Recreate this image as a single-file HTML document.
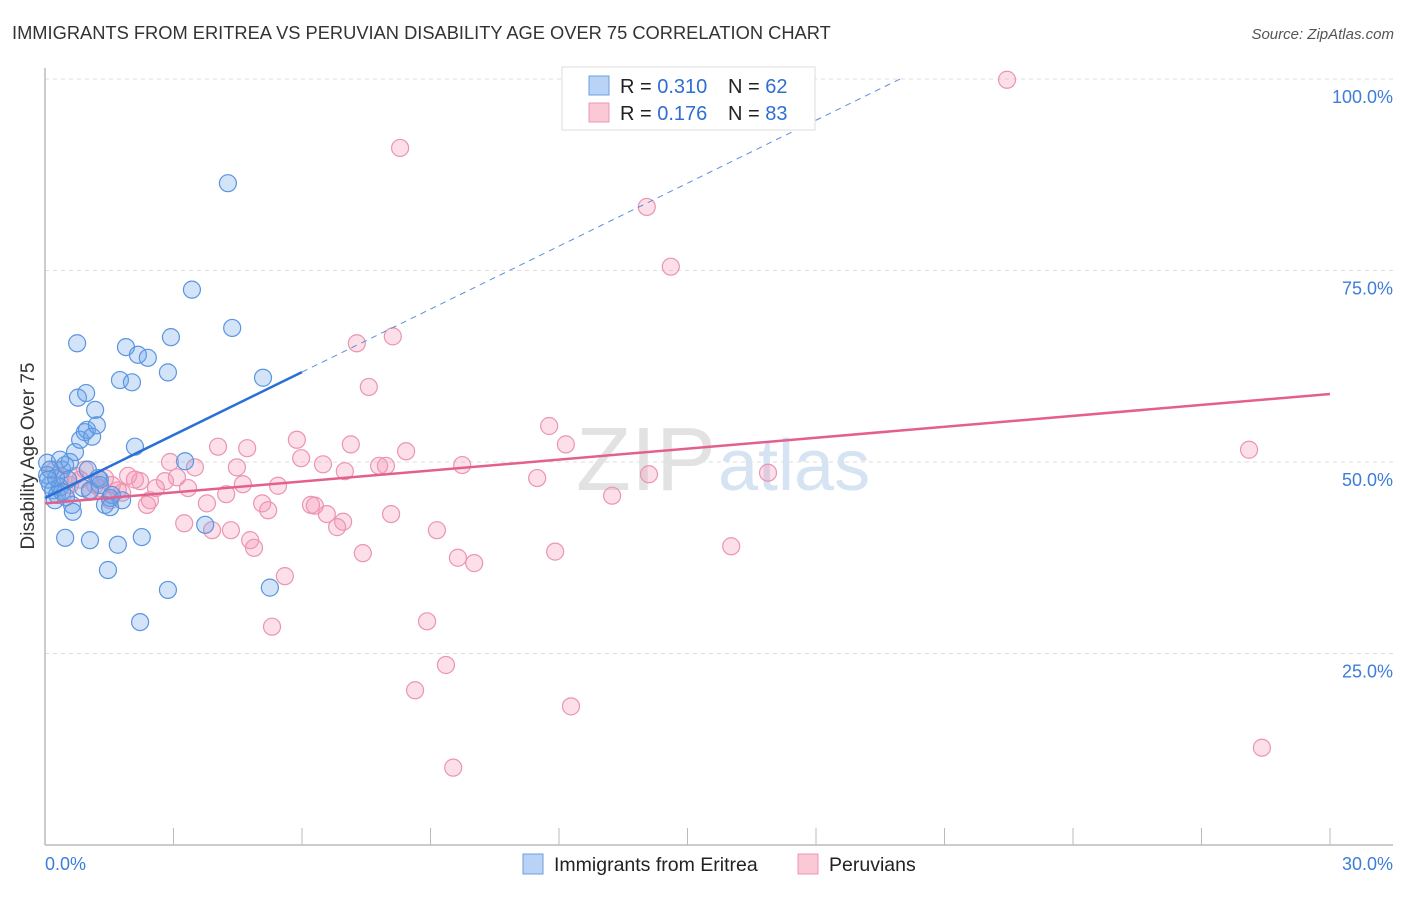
<!DOCTYPE html>
<html><head><meta charset="utf-8"><style>
body{margin:0;background:#fff;font-family:"Liberation Sans",sans-serif;}
svg text{font-family:"Liberation Sans",sans-serif;}
</style></head><body>
<svg id="chart" width="1406" height="892">
<text x="12" y="39" font-size="18.3" fill="#333">IMMIGRANTS FROM ERITREA VS PERUVIAN DISABILITY AGE OVER 75 CORRELATION CHART</text>
<text x="1394" y="39" font-size="15" fill="#555" text-anchor="end" font-style="italic">Source: ZipAtlas.com</text>
<text x="0" y="0" transform="translate(34,456) rotate(-90)" font-size="19" fill="#333" text-anchor="middle">Disability Age Over 75</text>
<g id="grid"></g>
<text x="716" y="490" font-size="90" font-family="Liberation Serif" fill="#e2e2e2" text-anchor="end">ZIP</text>
<text x="718" y="490" font-size="72" fill="#d5e3f3">atlas</text>
<g id="marks"></g>
<g id="trends"></g>
<g>
<rect x="562" y="67" width="253" height="63" fill="#fff" stroke="#ddd"/>
<rect x="589" y="76" width="20" height="19" fill="#b8d3f5" stroke="#6a9fe0"/>
<rect x="589" y="103" width="20" height="19" fill="#fbc8d6" stroke="#eb99b2"/>
<text x="620" y="93" font-size="20" fill="#222">R = <tspan fill="#2f6fd0">0.310</tspan></text>
<text x="728" y="93" font-size="20" fill="#222">N = <tspan fill="#2f6fd0">62</tspan></text>
<text x="620" y="120" font-size="20" fill="#222">R = <tspan fill="#2f6fd0"> 0.176</tspan></text>
<text x="728" y="120" font-size="20" fill="#222">N = <tspan fill="#2f6fd0">83</tspan></text>
</g>
<g>
<rect x="523" y="854" width="20" height="20" fill="#b8d3f5" stroke="#6a9fe0"/>
<text x="554" y="871" font-size="19.5" fill="#222">Immigrants from Eritrea</text>
<rect x="798" y="854" width="20" height="20" fill="#fbc8d6" stroke="#eb99b2"/>
<text x="829" y="871" font-size="19.5" fill="#222">Peruvians</text>
</g>
<text x="45" y="870" font-size="18" fill="#3d7dd8">0.0%</text>
<text x="1393" y="870" font-size="18" fill="#3d7dd8" text-anchor="end">30.0%</text>
</svg>
<script>
const blueX=[0.05,0.05,0.12,0.19,0.23,0.28,0.35,0.40,0.47,0.58,0.63,0.65,0.47,0.70,0.82,0.93,0.98,1.10,1.21,1.17,0.77,0.96,0.75,1.05,1.24,1.28,1.40,1.52,1.47,1.70,1.80,1.75,2.03,1.89,2.17,2.40,2.10,2.26,2.87,2.94,2.87,2.22,3.27,3.43,3.74,4.27,4.37,5.09,5.25,0.35,0.54,0.89,1.05,1.28,1.56,0.26,0.12,0.07,0.40,0.49,1.00,1.52];
const blueY=[49.9,48.3,47.0,46.3,45.0,45.7,46.7,49.0,49.6,50.0,44.4,43.5,40.1,51.3,52.9,53.9,54.2,53.3,54.8,56.8,58.4,59.0,65.5,39.8,47.9,47.0,44.4,45.3,35.9,39.2,45.0,60.7,60.4,65.0,64.0,63.6,52.0,40.2,61.7,66.3,33.3,29.1,50.1,72.5,41.8,86.4,67.5,61.0,33.6,50.3,47.7,46.6,46.3,47.7,45.7,47.9,49.0,47.7,46.1,45.4,49.0,44.1];
const pinkX=[22.46,8.29,14.05,14.61,8.12,7.28,7.56,11.77,12.16,5.88,7.14,8.43,9.74,7.80,7.96,7.00,6.49,5.98,4.72,4.04,4.48,2.92,3.50,3.08,2.80,2.22,1.94,2.10,1.56,1.28,4.62,5.44,4.23,3.78,3.34,2.59,2.45,2.38,1.80,1.52,6.21,6.30,6.58,6.96,6.82,5.21,5.07,8.08,9.15,3.25,3.90,4.34,4.79,4.88,7.42,9.64,10.02,11.91,16.02,5.60,5.30,8.92,9.36,8.64,12.28,9.53,28.41,28.11,16.88,14.10,11.49,13.24,0.82,1.05,0.35,0.58,0.23,1.17,1.40,1.70,0.47,0.70,0.93];
const pinkY=[99.9,91.0,83.3,75.5,66.4,65.5,59.8,54.7,52.3,52.9,52.3,51.4,49.6,49.5,49.5,48.8,49.7,50.5,51.8,52.0,49.3,50.0,49.3,48.0,47.5,47.5,48.2,47.7,47.0,46.6,47.1,46.9,45.8,44.6,46.6,46.6,45.0,44.4,46.0,45.0,44.4,44.3,43.2,42.2,41.5,43.7,44.6,43.2,41.1,42.0,41.1,41.1,39.8,38.8,38.1,37.5,36.8,38.3,39.0,35.1,28.5,29.2,23.5,20.2,18.1,10.1,12.7,51.6,48.6,48.4,47.9,45.6,47.7,46.1,47.9,47.0,49.0,47.0,47.9,46.3,46.1,48.2,49.0];
const yTicks=[25,50,75,100];
const yTickLabels=["25.0%","50.0%","75.0%","100.0%"];
const blueTrend=[45.3,2.74];   // intercept, slope
const pinkTrend=[44.6,0.476];
const blueSolidEnd=6.0;

const NS="http://www.w3.org/2000/svg";
const X=v=>45+v/30*1285, Y=v=>845-v/100*766;
function mk(t,a,p){const e=document.createElementNS(NS,t);for(const k in a)e.setAttribute(k,a[k]);p.appendChild(e);return e;}
const grid=document.getElementById('grid');
yTicks.forEach((t,i)=>{
 const l=mk('line',{x1:45,x2:1393,y1:Y(t),y2:Y(t),stroke:'#ddd','stroke-dasharray':'4,4'},grid);
 
 
 const tx=mk('text',{x:1393,y:Y(t)+24,'font-size':18,fill:'#3d7dd8','text-anchor':'end'},grid);
 tx.textContent=yTickLabels[i];
 
 
});
const ax=mk('line',{x1:45,x2:1393,y1:845,y2:845,stroke:'#bbb','stroke-width':1.5},grid);


const ay=mk('line',{x1:45,x2:45,y1:68,y2:845,stroke:'#bbb','stroke-width':1.5},grid);


for(let i=0;i<=10;i++){
 const tk=mk('line',{x1:X(i*3),x2:X(i*3),y1:828,y2:845,stroke:'#bbb'},grid);
 
 
}
const marks=document.getElementById('marks');
pinkX.forEach((x,i)=>{
 const c=mk('circle',{cx:X(x),cy:Y(pinkY[i]),r:8.5,fill:'rgba(245,150,180,0.3)',stroke:'#eb95b0','stroke-width':1.2},marks);
 
 
});
blueX.forEach((x,i)=>{
 const c=mk('circle',{cx:X(x),cy:Y(blueY[i]),r:8.5,fill:'rgba(110,165,235,0.3)',stroke:'#5a95e0','stroke-width':1.2},marks);
 
 
});
const tr=document.getElementById('trends');
const bEnd=(100-blueTrend[0])/blueTrend[1];
const bs=mk('line',{x1:X(0),y1:Y(blueTrend[0]),x2:X(blueSolidEnd),y2:Y(blueTrend[0]+blueTrend[1]*blueSolidEnd),stroke:'#2a6fd6','stroke-width':2.5},tr);


const bd=mk('line',{x1:X(blueSolidEnd),y1:Y(blueTrend[0]+blueTrend[1]*blueSolidEnd),x2:X(bEnd),y2:Y(100),stroke:'#5a90db','stroke-width':1,'stroke-dasharray':'6,5'},tr);


const pl=mk('line',{x1:X(0),y1:Y(pinkTrend[0]),x2:X(30),y2:Y(pinkTrend[0]+pinkTrend[1]*30),stroke:'#e4608c','stroke-width':2.5},tr);


</script>
</body></html>
